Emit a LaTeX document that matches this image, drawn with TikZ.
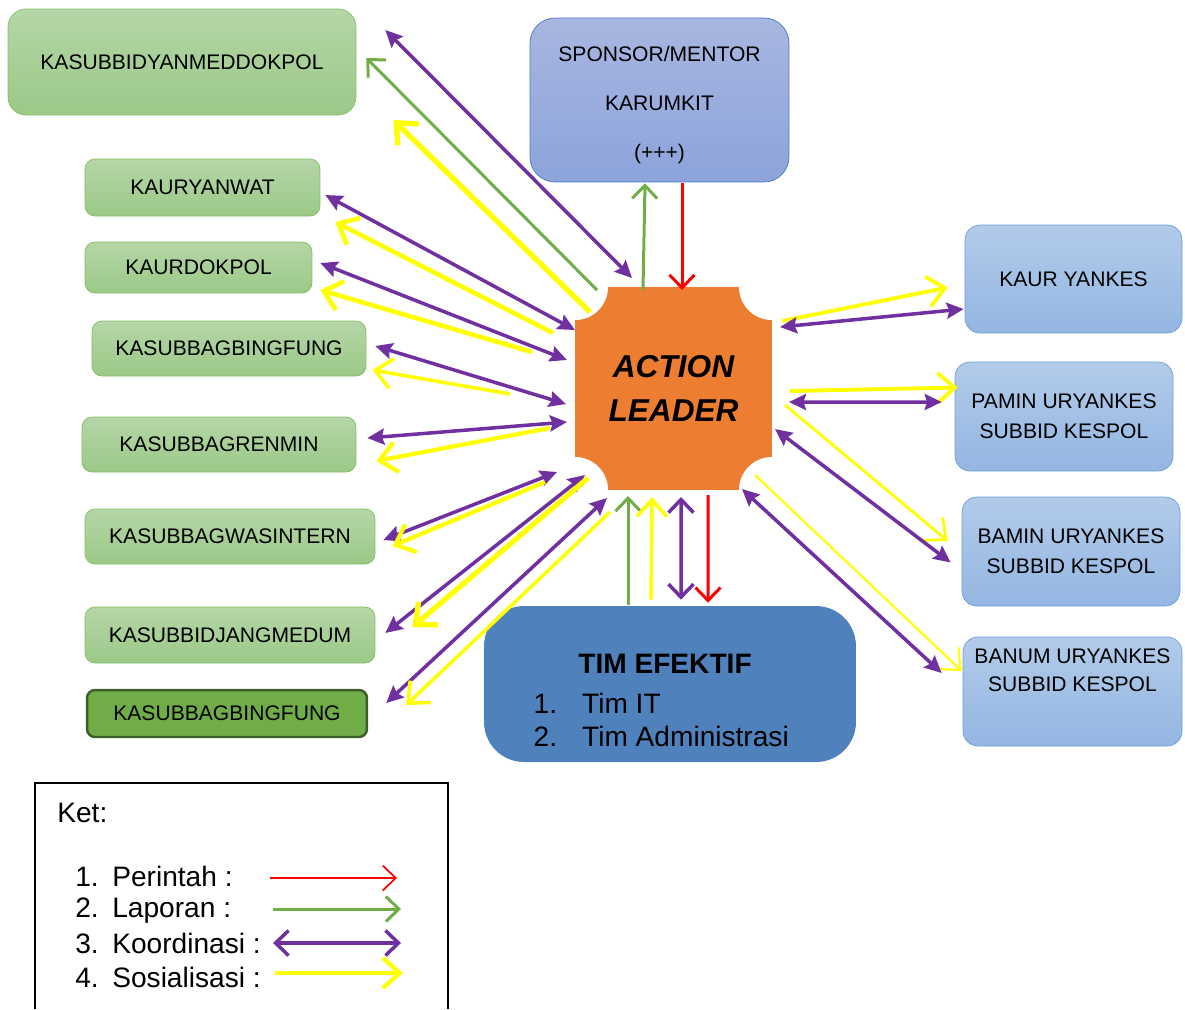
\documentclass[tikz,border=0pt]{standalone}
\usepackage{fontspec}
\setmainfont{Liberation Sans}
\usetikzlibrary{arrows.meta,calc}

\definecolor{actorange}{HTML}{ED7D31}
\definecolor{kpurple}{HTML}{7030A0}
\definecolor{kgreen}{HTML}{70AD47}
\definecolor{kyellow}{HTML}{FFFF00}
\definecolor{kred}{HTML}{FF0000}
\definecolor{gtop}{HTML}{B5D6A7}
\definecolor{gbot}{HTML}{9BC987}
\definecolor{gbord}{HTML}{84BC64}
\definecolor{gdark}{HTML}{3B5E2A}
\definecolor{btop}{HTML}{B2CBEA}
\definecolor{bbot}{HTML}{94B6E2}
\definecolor{bbord}{HTML}{6A9FD8}
\definecolor{stop}{HTML}{A8B6E0}
\definecolor{sbot}{HTML}{8CA4DB}
\definecolor{sbord}{HTML}{4A76C9}
\definecolor{timblue}{HTML}{4F81BD}

\begin{document}
\begin{tikzpicture}[x=0.02cm,y=-0.02cm,
    greenbox/.style={draw=gbord, top color=gtop, bottom color=gbot, rounded corners=0.2cm, inner sep=0pt, font=\fontsize{12}{17}\selectfont},
    bluebox/.style={draw=bbord, top color=btop, bottom color=bbot, rounded corners=0.3cm, inner sep=0pt, align=center, font=\fontsize{12}{17}\selectfont},
    action/.style={fill=actorange, minimum width=3.94cm, minimum height=4.06cm, inner sep=0pt, align=center,
        font=\fontsize{18}{25}\selectfont\bfseries\itshape,
        path picture={\foreach \c in {north west,north east,south west,south east}
            \fill[white] (path picture bounding box.\c) circle (0.66cm);}},
    ket/.style={anchor=west, inner sep=0pt, font=\fontsize{16}{19}\selectfont},
    perintah/.style={draw=kred, line width=1.7pt, -{Straight Barb[length=2.6mm,width=5mm]}},
    laporan/.style={draw=kgreen, line width=1.7pt, -{Straight Barb[length=2.6mm,width=5mm]}},
    koordinasi/.style={draw=kpurple, line width=2pt, {Stealth[length=3.4mm,width=3.2mm,inset=0.5mm]}-{Stealth[length=3.4mm,width=3.2mm,inset=0.5mm]}},
    koordbarb/.style={draw=kpurple, line width=2pt, {Straight Barb[length=2.6mm,width=5mm]}-{Straight Barb[length=2.6mm,width=5mm]}},
    sosialisasi/.style={draw=kyellow, line width=#1, -{Straight Barb[length=3.4mm,width=6mm]}},
    sosialisasi/.default=2.4pt]

    \useasboundingbox (0,0) rectangle (1185,1009);

    \node[greenbox, minimum width=6.96cm, minimum height=2.12cm, rounded corners=0.36cm] (yanmed) at (182,62) {KASUBBIDYANMEDDOKPOL};
    \node[greenbox, minimum width=4.7cm, minimum height=1.14cm] (yanwat) at (202.5,187.5) {KAURYANWAT};
    \node[greenbox, minimum width=4.54cm, minimum height=1.02cm] (dokpol) at (198.5,267.5) {KAURDOKPOL};
    \node[greenbox, minimum width=5.48cm, minimum height=1.1cm] (bingfung) at (229,348.5) {KASUBBAGBINGFUNG};
    \node[greenbox, minimum width=5.48cm, minimum height=1.1cm] (renmin) at (219,444.5) {KASUBBAGRENMIN};
    \node[greenbox, minimum width=5.8cm, minimum height=1.1cm] (wasintern) at (230,536.5) {KASUBBAGWASINTERN};
    \node[greenbox, minimum width=5.8cm, minimum height=1.12cm] (jangmedum) at (230,635) {KASUBBIDJANGMEDUM};
    \node[greenbox, draw=gdark, line width=1.4pt, fill=kgreen, top color=kgreen, bottom color=kgreen,
        minimum width=5.6cm, minimum height=0.94cm, rounded corners=0.16cm] (bingfungb) at (227,713.5) {KASUBBAGBINGFUNG};

    \node[bluebox, draw=sbord, top color=stop, bottom color=sbot, minimum width=5.18cm, minimum height=3.28cm, rounded corners=0.5cm]
        (sponsor) at (659.5,100)
        {\raisebox{-0.19cm}[0pt][0pt]{\begin{tabular}{@{}c@{}}SPONSOR/MENTOR\\[11pt]KARUMKIT\\[11pt](+++)\end{tabular}}};
    \node[action] (act) at (673.5,388.5) {ACTION\\LEADER};
    \node[fill=timblue, minimum width=7.44cm, minimum height=3.12cm, rounded corners=0.8cm, inner sep=0pt,
        font=\fontsize{16}{19}\selectfont] (timef) at (670,684)
        {\raisebox{-0.54cm}[0pt][0pt]{\begin{tabular}{@{}l@{\hspace{0.5cm}}l@{\hspace{0.35cm}}}
            \multicolumn{2}{@{}c@{\hspace{0.2cm}}}{\bfseries TIM EFEKTIF}\\[4pt]
            1. & Tim IT\\
            2. & Tim Administrasi
        \end{tabular}}};

    \node[bluebox, minimum width=4.34cm, minimum height=2.16cm] (yankes) at (1073.5,279) {KAUR YANKES};
    \node[bluebox, minimum width=4.36cm, minimum height=2.18cm] (pamin) at (1064,416.5) {PAMIN URYANKES\\SUBBID KESPOL};
    \node[bluebox, minimum width=4.36cm, minimum height=2.18cm] (bamin) at (1071,551.5) {BAMIN URYANKES\\SUBBID KESPOL};
    \node[bluebox, minimum width=4.38cm, minimum height=2.18cm] (banum) at (1072.5,691.5)
        {\raisebox{0.29cm}[0pt][0pt]{\begin{tabular}{@{}c@{}}BANUM URYANKES\\[-1pt]SUBBID KESPOL\end{tabular}}};

    \draw[koordinasi] ($(yanmed.east)+(29,-32)$) -- ($(act)+(-41.5,-110.5)$);
    \draw[laporan] ($(act)+(-76.5,-98.5)$) -- ($(yanmed.east)+(10,-4)$);
    \draw[sosialisasi=3pt] ($(act)+(-83.5,-76.5)$) -- ($(yanmed.east)+(37,58)$);
    \draw[koordinasi] ($(yanwat.east)+(5,7.5)$) -- ($(act)+(-98.5,-58.5)$);
    \draw[sosialisasi=2.6pt] ($(act)+(-120.5,-55.5)$) -- ($(yanwat.east)+(15,34.5)$);
    \draw[koordinasi] ($(dokpol.east)+(8,-4.5)$) -- ($(act)+(-106.5,-28.5)$);
    \draw[sosialisasi=2.6pt] ($(act)+(-141.5,-36.5)$) -- ($(dokpol.east)+(8,22.5)$);
    \draw[koordinasi] ($(bingfung.east)+(9,-2.5)$) -- ($(act)+(-107.5,15.5)$);
    \draw[sosialisasi=2pt] ($(act)+(-163.5,5.5)$) -- ($(bingfung.east)+(6,21.5)$);
    \draw[koordinasi] ($(renmin.east)+(11,-6.5)$) -- ($(act)+(-106.5,33.5)$);
    \draw[sosialisasi] ($(act)+(-123.5,39.5)$) -- ($(renmin.east)+(20,16.5)$);
    \draw[koordinasi] ($(wasintern.east)+(8,3.5)$) -- ($(act)+(-116.5,83.5)$);
    \draw[sosialisasi] ($(act)+(-128.5,93.5)$) -- ($(wasintern.east)+(17,9.5)$);
    \draw[koordinasi] ($(jangmedum.east)+(10,-2)$) -- ($(act)+(-88.5,86.5)$);
    \draw[sosialisasi=3pt] ($(act)+(-85.5,89.5)$) -- ($(jangmedum.east)+(37,-8)$);
    \draw[koordinasi] ($(bingfungb.east)+(18,-10.5)$) -- ($(act)+(-66.5,109.5)$);
    \draw[sosialisasi=2pt] ($(act)+(-63.5,123.5)$) -- ($(bingfungb.east)+(38,-8.5)$);

    \draw[laporan] ($(act)+(-30.5,-98.5)$) -- ($(sponsor.south)+(-14.5,1)$);
    \draw[perintah] ($(sponsor.south)+(22.5,1)$) -- ($(act)+(8.5,-98.5)$);

    \draw[laporan] ($(timef.north)+(-42,-1)$) -- ($(act)+(-45.5,107.5)$);
    \draw[sosialisasi=2pt] ($(timef.north)+(-19,-6)$) -- ($(act)+(-21.5,108.5)$);
    \draw[koordbarb] ($(timef.north)+(11,-6)$) -- ($(act)+(7.5,108.5)$);
    \draw[perintah] ($(act)+(34.5,106.5)$) -- ($(timef.north)+(38,-3)$);

    \draw[sosialisasi=2.2pt] ($(act)+(108.5,-67.5)$) -- ($(yankes.west)+(-17,8.5)$);
    \draw[koordinasi] ($(act)+(106.5,-61.5)$) -- ($(yankes.west)+(-1,30)$);
    \draw[sosialisasi=2.2pt] ($(act)+(116.5,2.5)$) -- ($(pamin.west)+(3,-29)$);
    \draw[koordinasi] ($(act)+(115.5,13.5)$) -- ($(pamin.west)+(-13,-14.5)$);
    \draw[sosialisasi=1.6pt] ($(act)+(111.5,16.5)$) -- ($(bamin.west)+(-14,-10.5)$);
    \draw[koordinasi] ($(act)+(101.5,40.5)$) -- ($(bamin.west)+(-11,11)$);
    \draw[sosialisasi=1.2pt] ($(act)+(81.5,86.5)$) -- ($(banum.west)+(-1,-20.5)$);
    \draw[koordinasi] ($(act)+(68.5,100.5)$) -- ($(banum.west)+(-21,-18.5)$);

    \draw[line width=0.8pt] (35,1009) -- (35,783) -- (448,783) -- (448,1009);
    \node[ket] (ket) at (57,813) {Ket:};
    \node[ket] (k1) at (75,876) {\makebox[0.74cm][l]{1.}Perintah :};
    \node[ket] (k2) at (75,911) {\makebox[0.74cm][l]{2.}Laporan :};
    \node[ket] (k3) at (75,943) {\makebox[0.74cm][l]{3.}Koordinasi :};
    \node[ket] (k4) at (75,977) {\makebox[0.74cm][l]{4.}Sosialisasi :};
    \coordinate (ketA) at (272,0);
    \coordinate (ketB) at (401,0);
    \draw[perintah, line width=1pt] ($(k1.east -| ketA)+(-2,2)$) -- ($(k1.east -| ketB)+(-4,2)$);
    \draw[laporan] ($(k2.east -| ketA)+(1,-2)$) -- ($(k2.east -| ketB)+(0,-2)$);
    \draw[koordbarb] ($(k3.east -| ketA)+(1,0)$) -- (k3.east -| ketB);
    \draw[sosialisasi] ($(k4.east -| ketA)+(3,-4)$) -- ($(k4.east -| ketB)+(2,-4)$);
\end{tikzpicture}
\end{document}
